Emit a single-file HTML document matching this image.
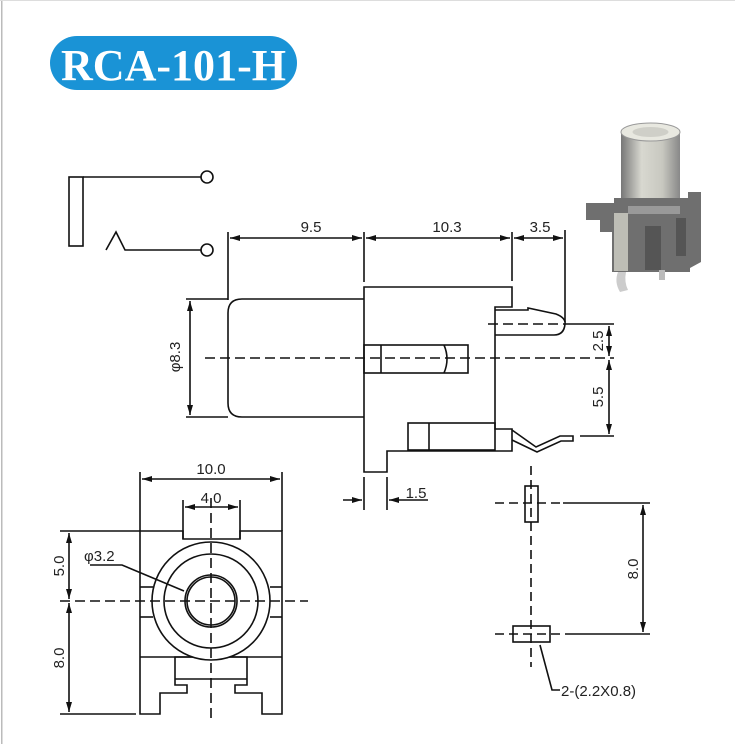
<!DOCTYPE html>
<html><head><meta charset="utf-8"><style>
html,body{margin:0;padding:0;background:#fff;}
svg{display:block;}
text{font-family:"Liberation Sans",Arial,sans-serif;fill:#222;}
</style></head><body>
<svg width="735" height="744" viewBox="0 0 735 744" xmlns="http://www.w3.org/2000/svg">
<defs>
<marker id="a" viewBox="0 0 10 6" refX="10" refY="3" markerWidth="10" markerHeight="6" orient="auto-start-reverse" markerUnits="userSpaceOnUse"><path d="M0,0 L10,3 L0,6 z" fill="#111"/></marker>
<linearGradient id="cyl" x1="0" x2="1"><stop offset="0" stop-color="#777"/><stop offset="0.35" stop-color="#d8d8d0"/><stop offset="0.7" stop-color="#c8c8c0"/><stop offset="1" stop-color="#888"/></linearGradient>
</defs>
<rect x="1" y="0" width="1.5" height="744" fill="#bbb"/>
<rect x="0" y="0" width="735" height="1" fill="#ddd"/>
<!-- title -->
<rect x="50" y="36" width="247" height="54" rx="27" fill="#1a93d6"/>
<text x="61" y="80" textLength="225" lengthAdjust="spacingAndGlyphs" font-weight="bold" font-size="44" style="fill:#fff;font-family:'Liberation Serif',serif">RCA-101-H</text>

<g stroke="#111" stroke-width="1.6" fill="none">
<rect x="69" y="177" width="14" height="69"/>
<line x1="83" y1="177" x2="201" y2="177"/>
<circle cx="207" cy="177" r="6"/>
<polyline points="106,250 116,232 125,250 201,250"/>
<circle cx="207" cy="250" r="6"/>

<line x1="228" y1="232" x2="228" y2="300"/>
<line x1="364" y1="232" x2="364" y2="282"/>
<line x1="512" y1="232" x2="512" y2="281"/>
<line x1="565" y1="230" x2="565" y2="322"/>
<line x1="230" y1="238" x2="362" y2="238" marker-start="url(#a)" marker-end="url(#a)"/>
<line x1="366" y1="238" x2="510" y2="238" marker-start="url(#a)" marker-end="url(#a)"/>
<line x1="514" y1="238" x2="563" y2="238" marker-start="url(#a)" marker-end="url(#a)"/>
<path d="M364,299 H242 Q228,299 228,313 V403 Q228,417 242,417 H364"/>
<line x1="186" y1="299" x2="228" y2="299"/>
<line x1="186" y1="417" x2="228" y2="417"/>
<line x1="190" y1="301" x2="190" y2="415" marker-start="url(#a)" marker-end="url(#a)"/>
<path d="M364,472 V287 H512 V307 H495 V429 H512 V451 H387 V472 Z"/>
<rect x="408" y="423" width="87" height="27"/>
<line x1="429" y1="423" x2="429" y2="450"/>
<rect x="364" y="345" width="104" height="28"/>
<line x1="381" y1="345" x2="381" y2="373"/>
<path d="M444,345 Q450,359 444,373"/>
<path d="M495,310 H528 V308 L556,314 Q566,318 565,324 Q564,335 554,335 H495"/>
<path d="M512,430 L536,447 L560,436 H573 V441 H561 L537,452 L512,440"/>
<line x1="364" y1="477" x2="364" y2="510"/>
<line x1="387" y1="477" x2="387" y2="510"/>
<line x1="343" y1="500" x2="362" y2="500" marker-end="url(#a)"/>
<line x1="428" y1="500" x2="389" y2="500" marker-end="url(#a)"/>
<line x1="566" y1="324" x2="614" y2="324"/>
<line x1="580" y1="436" x2="614" y2="436"/>
<line x1="609" y1="326" x2="609" y2="356" marker-start="url(#a)" marker-end="url(#a)"/>
<line x1="609" y1="360" x2="609" y2="434" marker-start="url(#a)" marker-end="url(#a)"/>
</g>
<g stroke="#111" stroke-width="1.6" fill="none" stroke-dasharray="10,5">
<line x1="205" y1="358" x2="614" y2="358"/>
<line x1="488" y1="324" x2="566" y2="324"/>
</g>

<g stroke="#111" stroke-width="1.6" fill="none">
<line x1="140" y1="472" x2="140" y2="531"/>
<line x1="282" y1="472" x2="282" y2="531"/>
<line x1="142" y1="479" x2="280" y2="479" marker-start="url(#a)" marker-end="url(#a)"/>
<line x1="183" y1="500" x2="183" y2="539"/>
<line x1="240" y1="500" x2="240" y2="539"/>
<line x1="185" y1="507" x2="238" y2="507" marker-start="url(#a)" marker-end="url(#a)"/>
<path d="M140,531 H183 V539 H240 V531 H282 V714 H262 V693 H235 V685 H247 V657 H175 V685 H187 V693 H160 V714 H140 Z"/>
<line x1="140" y1="657" x2="282" y2="657"/>
<line x1="175" y1="679" x2="247" y2="679"/>
<line x1="140" y1="587" x2="153" y2="587"/>
<line x1="140" y1="617" x2="153" y2="617"/>
<line x1="270" y1="587" x2="282" y2="587"/>
<line x1="270" y1="617" x2="282" y2="617"/>
<circle cx="211" cy="601" r="59" fill="#fff"/>
<circle cx="211" cy="601" r="47"/>
<circle cx="211" cy="601" r="26"/>
<circle cx="211" cy="601" r="24"/>
<line x1="60" y1="531" x2="140" y2="531"/>
<line x1="60" y1="714" x2="136" y2="714"/>
<line x1="69" y1="533" x2="69" y2="599" marker-start="url(#a)" marker-end="url(#a)"/>
<line x1="69" y1="603" x2="69" y2="712" marker-start="url(#a)" marker-end="url(#a)"/>
<polyline points="90,565 122,565 184,591"/>
</g>
<g stroke="#111" stroke-width="1.6" fill="none" stroke-dasharray="10,5">
<line x1="60" y1="601" x2="308" y2="601"/>
<line x1="211" y1="498" x2="211" y2="722"/>
</g>

<g stroke="#111" stroke-width="1.6" fill="none">
<rect x="525" y="486" width="13" height="36" fill="#fff"/>
<rect x="513" y="626" width="37" height="16" fill="#fff"/>
<line x1="563" y1="503" x2="650" y2="503"/>
<line x1="565" y1="634" x2="650" y2="634"/>
<line x1="643" y1="505" x2="643" y2="632" marker-start="url(#a)" marker-end="url(#a)"/>
<polyline points="540,645 552,690 560,690"/>
</g>
<g stroke="#111" stroke-width="1.6" fill="none" stroke-dasharray="9,5">
<line x1="531" y1="466" x2="531" y2="667"/>
<line x1="495" y1="503" x2="560" y2="503"/>
<line x1="495" y1="634" x2="562" y2="634"/>
</g>

<g font-size="15">
<text x="311" y="232" text-anchor="middle">9.5</text>
<text x="447" y="232" text-anchor="middle">10.3</text>
<text x="540" y="232" text-anchor="middle">3.5</text>
<text x="416" y="498" text-anchor="middle">1.5</text>
<text transform="translate(180,357) rotate(-90)" text-anchor="middle">φ8.3</text>
<text transform="translate(603,341) rotate(-90)" text-anchor="middle">2.5</text>
<text transform="translate(603,397) rotate(-90)" text-anchor="middle">5.5</text>
<text x="211" y="474" text-anchor="middle">10.0</text>
<text x="211" y="503" text-anchor="middle">4.0</text>
<text x="84" y="561">φ3.2</text>
<text transform="translate(64,566) rotate(-90)" text-anchor="middle">5.0</text>
<text transform="translate(64,658) rotate(-90)" text-anchor="middle">8.0</text>
<text transform="translate(638,569) rotate(-90)" text-anchor="middle">8.0</text>
<text x="561" y="696">2-(2.2X0.8)</text>
</g>

<g>
<rect x="621" y="132" width="59" height="74" fill="url(#cyl)"/>
<ellipse cx="650.5" cy="132" rx="29.5" ry="9" fill="#e8e8e0" stroke="#999"/>
<ellipse cx="650.5" cy="132" rx="18" ry="5" fill="#cfcfc8"/>
<path d="M586,203 H614 V198 H688 V192 H701 V262 L690,268 V272 H612 V232 H600 V220 H586 Z" fill="#6f6f6f"/>
<rect x="614" y="213" width="14" height="58" fill="#bdbdb5"/>
<rect x="628" y="206" width="52" height="8" fill="#999"/>
<rect x="645" y="226" width="16" height="44" fill="#555"/>
<rect x="676" y="218" width="10" height="38" fill="#555"/>
<path d="M618,272 Q614,282 620,292 L628,290 Q624,282 626,272 Z" fill="#ccc"/>
<rect x="659" y="270" width="6" height="10" fill="#bbb"/>
</g>
</svg>
</body></html>
